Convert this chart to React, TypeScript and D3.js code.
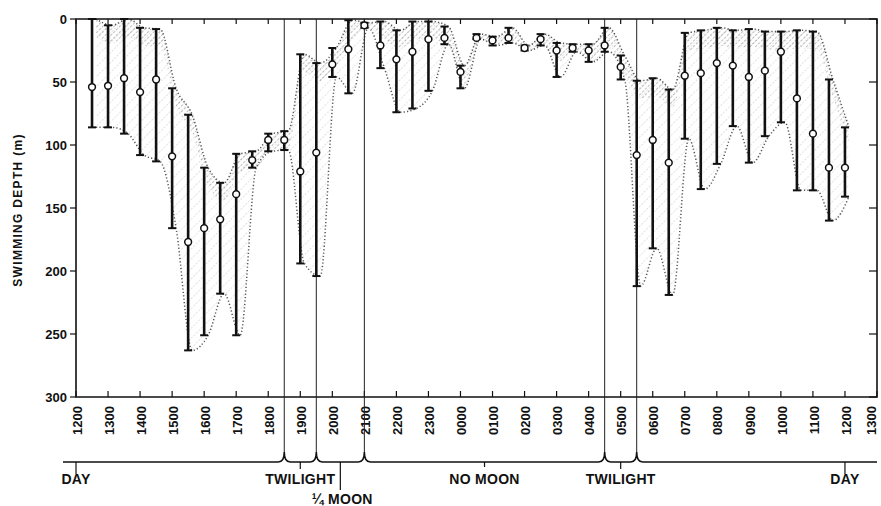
import React, { useEffect, useRef } from "react";
import * as d3 from "d3";

// half-hourly samples, 1230 on day 1 to 1200 on day 2
const TIMES = [
  "1230", "1300", "1330", "1400", "1430", "1500", "1530", "1600", "1630", "1700", "1730", "1800", "1830",
  "1900", "1930", "2000", "2030", "2100", "2130", "2200", "2230", "2300", "2330",
  "0000", "0030", "0100", "0130", "0200", "0230", "0300", "0330", "0400", "0430", "0500", "0530",
  "0600", "0630", "0700", "0730", "0800", "0830", "0900", "0930", "1000", "1030", "1100", "1130", "1200",
];
const MEAN = [
  54, 53, 47, 58, 48, 109, 177, 166, 159, 139, 112, 96, 96,
  121, 106, 36, 24, 5, 21, 32, 26, 16, 15,
  42, 15, 17, 15, 23, 16, 25, 23, 25, 21, 38, 108,
  96, 114, 45, 43, 35, 37, 46, 41, 26, 63, 91, 118, 118,
];
const SHALLOW = [
  0, 5, 0, 7, 8, 55, 76, 118, 130, 107, 105, 91, 89,
  28, 35, 23, 1, 3, 2, 9, 2, 2, 6,
  37, 12, 14, 7, 21, 12, 19, 20, 20, 7, 29, 49,
  47, 56, 11, 9, 7, 9, 8, 10, 10, 9, 10, 48, 86,
];
const DEEP = [
  86, 86, 91, 108, 113, 166, 263, 251, 218, 251, 118, 105, 104,
  194, 204, 46, 59, 7, 39, 74, 71, 57, 20,
  55, 16, 21, 19, 25, 21, 46, 26, 34, 26, 48, 212,
  182, 219, 95, 135, 115, 85, 114, 93, 82, 136, 136, 160, 141,
];

const TICK_LABELS = [
  "1200", "1300", "1400", "1500", "1600", "1700", "1800", "1900", "2000", "2100", "2200", "2300",
  "0000", "0100", "0200", "0300", "0400", "0500", "0600", "0700", "0800", "0900", "1000", "1100", "1200", "1300",
];
const DEPTH_TICKS = [0, 50, 100, 150, 200, 250, 300];

// light-change markers (vertical lines) and the period labels on the time bar
const MARKERS = ["1830", "1930", "2100", "0430", "0530"];
const PERIOD_LABELS = ["DAY", "TWILIGHT", "\u00BC MOON", "NO MOON", "TWILIGHT", "DAY"];
const PERIOD_TIMES = ["1200", "1900", "2015", "0045", "0500", "1200+"];

const W = 881;
const H = 506;
const X0 = 76, X1 = 877, Y0 = 19, Y1 = 397;
const BAR_Y = 462;
const FONT = "'Liberation Sans', Arial, sans-serif";

// hours since 1200 on day 1
const toHours = (t: string, i: number, arr: string[]) => {
  if (t.endsWith("+")) return 24;
  const h = +t.slice(0, 2), m = +t.slice(2, 4);
  let v = ((h - 12 + 24) % 24) + m / 60;
  if (v === 0 && i > 0 && arr === TIMES) v = 24;
  return v;
};

const App = () => {
  const svgRef = useRef<SVGSVGElement>(null);

  useEffect(() => {
    if (!svgRef.current) return;
    const svg = d3.select(svgRef.current);
    svg.selectAll("*").remove();

    const x = d3.scaleLinear().domain([0, 25]).range([X0, X1]);
    const y = d3.scaleLinear().domain([0, 300]).range([Y0, Y1]);

    const data = TIMES.map((t, i) => ({
      h: toHours(t, i, TIMES), mean: MEAN[i], lo: SHALLOW[i], hi: DEEP[i],
    }));

    // ── Hatch patterns ────────────────────────────────────────────────────
    const defs = svg.append("defs");
    const pat = (id: string, size: number, color: string, sw: number) => {
      const p = defs.append("pattern")
        .attr("id", id).attr("patternUnits", "userSpaceOnUse")
        .attr("width", size).attr("height", size)
        .attr("patternTransform", "rotate(45)");
      p.append("line").attr("x1", 0).attr("y1", 0).attr("x2", 0).attr("y2", size)
        .attr("stroke", color).attr("stroke-width", sw).attr("stroke-dasharray", "2,1.5");
    };
    pat("hatchLight", 7, "#8a8a8a", 0.9);
    pat("hatchDense", 4, "#555", 1);

    const SHIFT = 4;
    const band = svg.append("g").attr("transform", `translate(${SHIFT},0)`);

    const area = d3.area<typeof data[0]>()
      .x(d => x(d.h)).y0(d => y(d.lo)).y1(d => y(d.hi))
      .curve(d3.curveMonotoneX);
    band.append("path").datum(data)
      .attr("d", area).attr("fill", "url(#hatchLight)").attr("opacity", 0.55);

    const strip = d3.area<typeof data[0]>()
      .x(d => x(d.h)).y0(d => y(d.lo))
      .y1(d => Math.min(y(d.hi), y(d.lo) + 18))
      .curve(d3.curveMonotoneX);
    band.append("path").datum(data)
      .attr("d", strip).attr("fill", "url(#hatchDense)").attr("opacity", 0.8);

    const edge = (acc: (d: typeof data[0]) => number) => d3.line<typeof data[0]>()
      .x(d => x(d.h)).y(d => y(acc(d))).curve(d3.curveMonotoneX);
    [edge(d => d.lo), edge(d => d.hi)].forEach(gen => {
      band.append("path").datum(data)
        .attr("d", gen).attr("fill", "none")
        .attr("stroke", "#555").attr("stroke-width", 1.5)
        .attr("stroke-dasharray", "1.2,2.2");
    });

    // ── Frame & ticks ─────────────────────────────────────────────────────
    const ink = "#111";
    svg.append("path")
      .attr("d", `M${X0},${Y0} L${X1},${Y0} L${X1},${Y1} L${X0},${Y1} Z`)
      .attr("fill", "none").attr("stroke", ink).attr("stroke-width", 1.6);

    TICK_LABELS.forEach((lab, i) => {
      const tx = x(i);
      svg.append("line").attr("x1", tx).attr("x2", tx).attr("y1", Y0).attr("y2", Y0 + 5)
        .attr("stroke", ink).attr("stroke-width", 1.2);
      svg.append("line").attr("x1", tx).attr("x2", tx).attr("y1", Y1).attr("y2", Y1 - 6)
        .attr("stroke", ink).attr("stroke-width", 1.2);
      svg.append("text")
        .attr("transform", `translate(${Math.min(tx + 1, W - 10)},${406}) rotate(-90)`)
        .attr("text-anchor", "end").attr("dy", "0.36em")
        .attr("font-family", FONT).attr("font-size", "13px").attr("font-weight", "700")
        .attr("fill", ink)
        .text(lab);
    });

    DEPTH_TICKS.forEach(v => {
      svg.append("line").attr("x1", X0 - 6).attr("x2", X0).attr("y1", y(v)).attr("y2", y(v))
        .attr("stroke", ink).attr("stroke-width", 1.2);
      svg.append("line").attr("x1", X1 - 8).attr("x2", X1).attr("y1", y(v)).attr("y2", y(v))
        .attr("stroke", ink).attr("stroke-width", 1.2);
      svg.append("text")
        .attr("x", X0 - 9).attr("y", y(v)).attr("dy", "0.36em")
        .attr("text-anchor", "end")
        .attr("font-family", FONT).attr("font-size", "13px").attr("font-weight", "700")
        .attr("fill", ink)
        .text(v);
    });

    svg.append("text")
      .attr("transform", `translate(22,${210}) rotate(-90)`)
      .attr("text-anchor", "middle")
      .attr("font-family", FONT).attr("font-size", "12px").attr("font-weight", "700")
      .attr("letter-spacing", "1.3px")
      .attr("fill", ink)
      .text("SWIMMING DEPTH (m)");

    // ── Markers and time bar ──────────────────────────────────────────────
    const mx = MARKERS.map((t, i) => x(toHours(t, i, MARKERS)));
    mx.forEach(px => {
      svg.append("line").attr("x1", px).attr("x2", px).attr("y1", Y0).attr("y2", BAR_Y - 10)
        .attr("stroke", "#222").attr("stroke-width", 1);
    });

    let d = `M63,${BAR_Y}`;
    mx.forEach(px => {
      d += ` L${px - 6},${BAR_Y} Q${px},${BAR_Y} ${px},${BAR_Y - 10} Q${px},${BAR_Y} ${px + 6},${BAR_Y}`;
    });
    d += ` L${X1},${BAR_Y}`;
    svg.append("path").attr("d", d).attr("fill", "none")
      .attr("stroke", ink).attr("stroke-width", 1.6);

    const tickLen = [12, 7, 28, 5, 7, 12];
    const labelY = [484, 484, 504, 484, 484, 484];
    PERIOD_LABELS.forEach((lab, i) => {
      const px = x(toHours(PERIOD_TIMES[i], i, PERIOD_TIMES));
      svg.append("line").attr("x1", px).attr("x2", px)
        .attr("y1", BAR_Y).attr("y2", BAR_Y + tickLen[i])
        .attr("stroke", ink).attr("stroke-width", 1.2);
      svg.append("text")
        .attr("x", px + (i === 2 ? 2 : 0)).attr("y", labelY[i])
        .attr("text-anchor", "middle")
        .attr("font-family", FONT).attr("font-size", "14px").attr("font-weight", "700")
        .attr("letter-spacing", "0.3px")
        .attr("fill", ink)
        .text(lab);
    });

    // ── Error bars ────────────────────────────────────────────────────────
    const bars = svg.append("g");
    data.forEach(p => {
      const px = x(p.h);
      bars.append("line").attr("x1", px).attr("x2", px)
        .attr("y1", y(p.lo)).attr("y2", y(p.hi))
        .attr("stroke", ink).attr("stroke-width", 2.6);
      [p.lo, p.hi].forEach(v => {
        bars.append("line").attr("x1", px - 4).attr("x2", px + 4)
          .attr("y1", y(v)).attr("y2", y(v))
          .attr("stroke", ink).attr("stroke-width", 2);
      });
      bars.append("circle").attr("cx", px).attr("cy", y(p.mean)).attr("r", 3.4)
        .attr("fill", "#fff").attr("stroke", ink).attr("stroke-width", 1.5);
    });
  }, []);

  return (
    <svg
      ref={svgRef}
      width={W}
      height={H}
      style={{ position: "absolute", left: 0, top: 0, background: "#fff" }}
    />
  );
};

export default App;
